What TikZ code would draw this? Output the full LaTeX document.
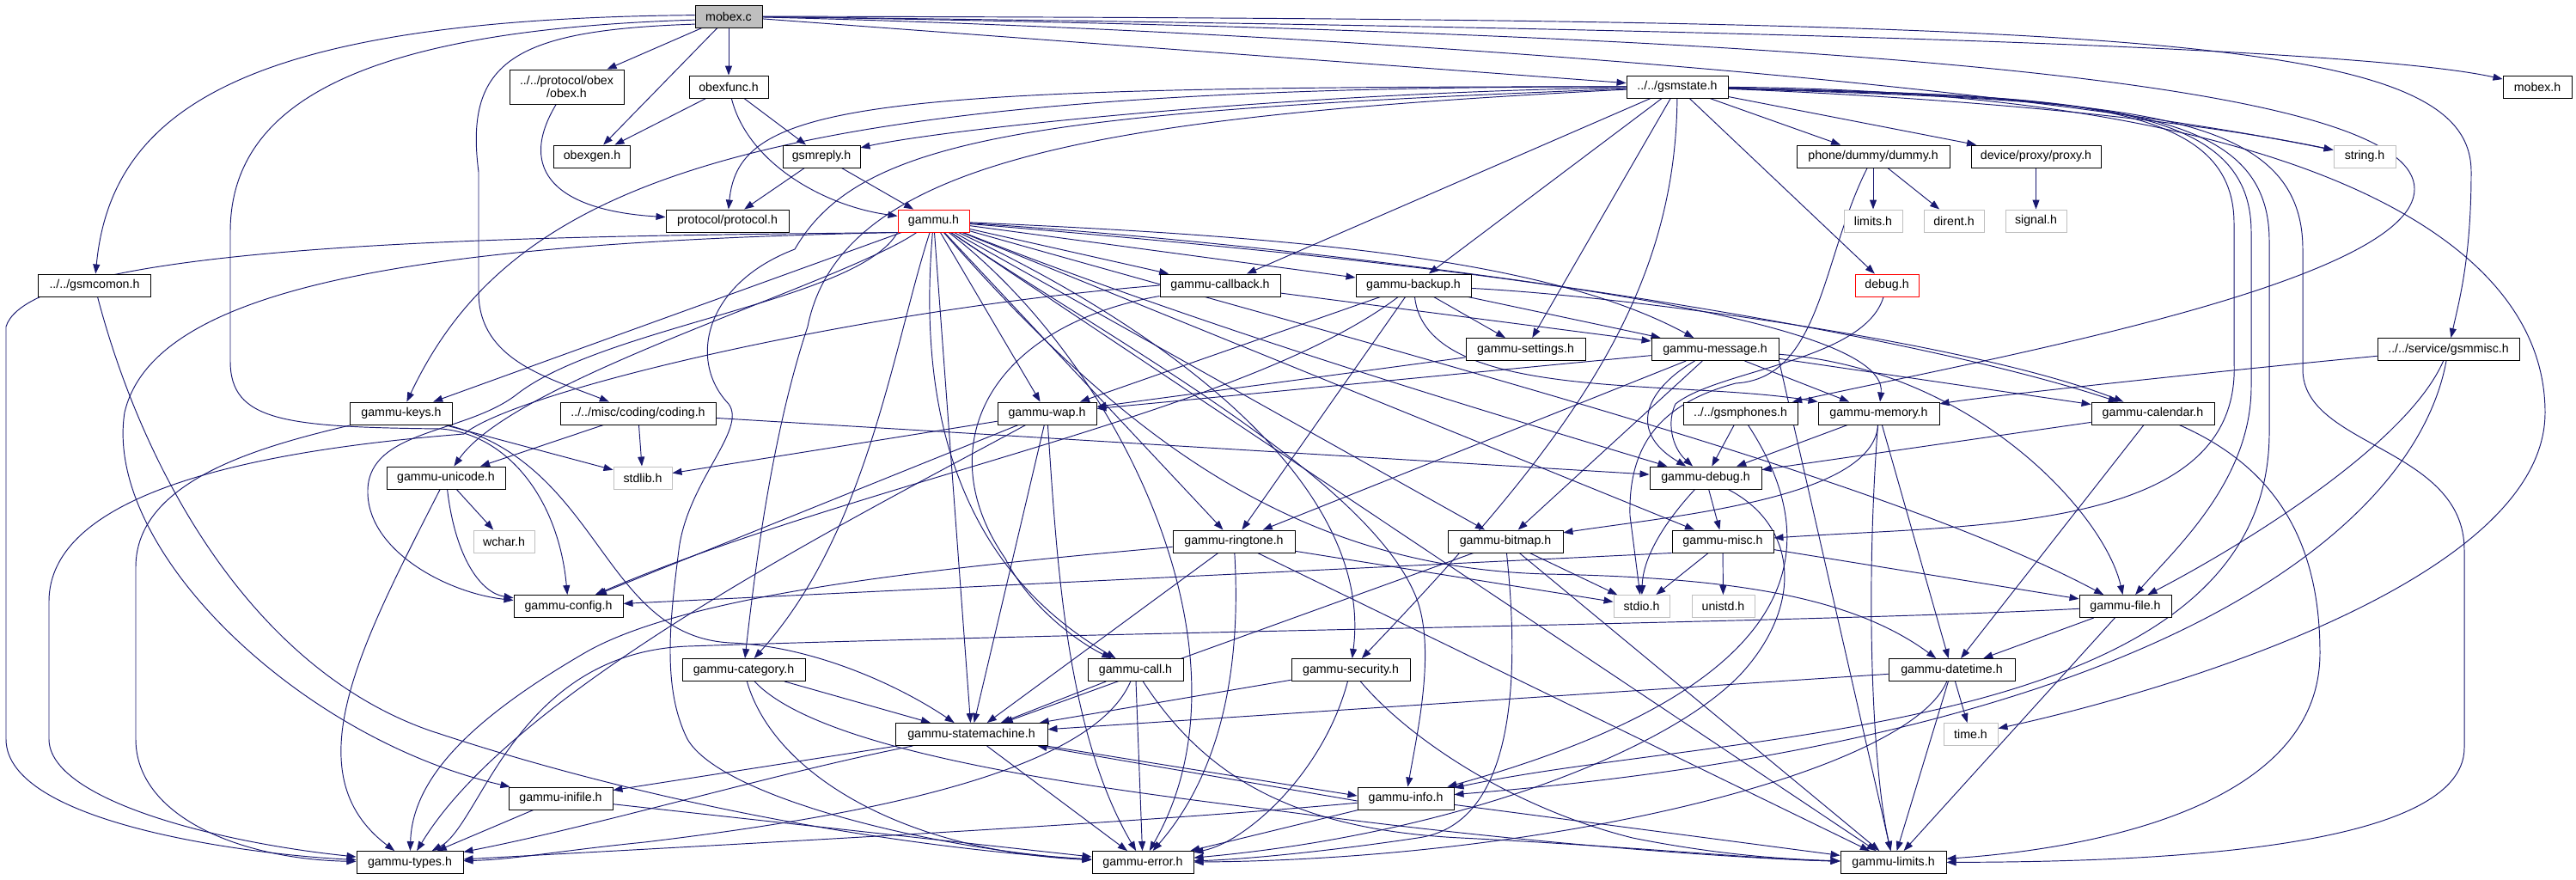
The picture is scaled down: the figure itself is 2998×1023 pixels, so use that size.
\documentclass[tikz,border=0pt]{standalone}
\usepackage{fontspec}
\setmainfont{Liberation Sans}
\usetikzlibrary{arrows.meta}
\pgfdeclarelayer{bg}
\pgfsetlayers{bg,main}
\definecolor{edgec}{HTML}{191970}
\definecolor{sysgray}{HTML}{BFBFBF}
\definecolor{rootfill}{HTML}{BFBFBF}
\begin{document}
\begin{tikzpicture}[x=1pt,y=-1pt,
  nbox/.style={draw=black, line width=0.95pt, fill=white, minimum height=26pt, inner sep=0pt, font=\fontsize{14.2}{15}\selectfont},
  sysbox/.style={nbox, draw=sysgray},
  redbox/.style={nbox, draw=red},
  dep/.style={draw=edgec, line width=0.95pt, -{Triangle[length=11pt,width=8pt]}}]
\useasboundingbox (0,0) rectangle (2998,1023);

% ---------- nodes ----------
\node[nbox, fill=rootfill, minimum width=78pt] (mobexc) at (848,19) {mobex.c};
\node[nbox, minimum width=92pt] (obexfunc) at (848,101) {obexfunc.h};
\node[nbox, minimum width=133pt, minimum height=40pt, align=center] (obex) at (659.5,101) {../../protocol/obex\\/obex.h};
\node[nbox, minimum width=118pt] (gsmstate) at (1952,101) {../../gsmstate.h};
\node[nbox, minimum width=80pt] (mobexh) at (2953,101) {mobex.h};
\node[nbox, minimum width=89pt] (obexgen) at (689,182) {obexgen.h};
\node[nbox, minimum width=90pt] (gsmreply) at (956,182) {gsmreply.h};
\node[nbox, minimum width=178pt] (dummy) at (2180,182) {phone/dummy/dummy.h};
\node[nbox, minimum width=151pt] (proxy) at (2369.5,182) {device/proxy/proxy.h};
\node[sysbox, minimum width=72pt] (stringh) at (2752,182) {string.h};
\node[nbox, minimum width=143pt] (protocol) at (846.5,257) {protocol/protocol.h};
\node[redbox, minimum width=83pt] (gammuh) at (1086.5,257) {gammu.h};
\node[sysbox, minimum width=68pt] (limitsh) at (2180,257) {limits.h};
\node[sysbox, minimum width=70pt] (dirent) at (2274,257) {dirent.h};
\node[sysbox, minimum width=71pt] (signal) at (2369.5,257) {signal.h};
\node[nbox, minimum width=131pt] (gsmcomon) at (110,332) {../../gsmcomon.h};
\node[nbox, minimum width=140pt] (callback) at (1420,332) {gammu-callback.h};
\node[nbox, minimum width=134pt] (backup) at (1645,332) {gammu-backup.h};
\node[redbox, minimum width=74pt] (debugh) at (2196,332) {debug.h};
\node[nbox, minimum width=139pt] (settings) at (1775.5,406.5) {gammu-settings.h};
\node[nbox, minimum width=148pt] (message) at (1996,406.5) {gammu-message.h};
\node[nbox, minimum width=165pt] (gsmmisc) at (2849.5,406.5) {../../service/gsmmisc.h};
\node[nbox, minimum width=119pt] (keys) at (467,481) {gammu-keys.h};
\node[nbox, minimum width=181pt] (coding) at (742.5,481) {../../misc/coding/coding.h};
\node[nbox, minimum width=115pt] (wap) at (1218.5,481) {gammu-wap.h};
\node[nbox, minimum width=133pt] (gsmphones) at (2025.5,481) {../../gsmphones.h};
\node[nbox, minimum width=141pt] (memory) at (2186.5,481) {gammu-memory.h};
\node[nbox, minimum width=143pt] (calendar) at (2505.5,481) {gammu-calendar.h};
\node[nbox, minimum width=138pt] (unicode) at (519,556) {gammu-unicode.h};
\node[sysbox, minimum width=68pt] (stdlib) at (748,556) {stdlib.h};
\node[nbox, minimum width=130pt] (gdebug) at (1985,556) {gammu-debug.h};
\node[sysbox, minimum width=71pt] (wchar) at (586.5,630) {wchar.h};
\node[nbox, minimum width=142pt] (ringtone) at (1436,630) {gammu-ringtone.h};
\node[nbox, minimum width=134pt] (bitmap) at (1752,630) {gammu-bitmap.h};
\node[nbox, minimum width=118pt] (misc) at (2005,630) {gammu-misc.h};
\node[nbox, minimum width=127pt] (config) at (661.5,705.5) {gammu-config.h};
\node[sysbox, minimum width=65pt] (stdio) at (1910.5,705.5) {stdio.h};
\node[sysbox, minimum width=73pt] (unistd) at (2005.5,705.5) {unistd.h};
\node[nbox, minimum width=107pt] (file) at (2473.5,705.5) {gammu-file.h};
\node[nbox, minimum width=143pt] (category) at (865.5,779.5) {gammu-category.h};
\node[nbox, minimum width=111pt] (call) at (1321.5,779.5) {gammu-call.h};
\node[nbox, minimum width=138pt] (security) at (1572,779.5) {gammu-security.h};
\node[nbox, minimum width=147pt] (datetime) at (2271.5,779.5) {gammu-datetime.h};
\node[nbox, minimum width=177pt] (statemachine) at (1130.5,854.5) {gammu-statemachine.h};
\node[sysbox, minimum width=63pt] (timeh) at (2293.5,854.5) {time.h};
\node[nbox, minimum width=121pt] (inifile) at (652.5,929) {gammu-inifile.h};
\node[nbox, minimum width=112pt] (info) at (1636,929) {gammu-info.h};
\node[nbox, minimum width=124pt] (types) at (477,1003.5) {gammu-types.h};
\node[nbox, minimum width=118pt] (errorh) at (1330,1003.5) {gammu-error.h};
\node[nbox, minimum width=123pt] (glimits) at (2203.5,1003.5) {gammu-limits.h};

\begin{pgfonlayer}{bg}
\fill[white] (0,0) rectangle (2998,1023);

% mobex.c
\draw[dep] (mobexc) -- (obexfunc);
\draw[dep] (mobexc) -- (obexgen);
\draw[dep] (mobexc) -- (obex);
\draw[dep] (mobexc.178) .. controls (300,22) and (130,120) .. (gsmcomon);
\draw[dep] (mobexc.186) .. controls (420,35) and (268,120) .. (268,270) -- (268,420) .. controls (268,490) and (330,497) .. (513,499) .. controls (590,505) and (650,580) .. (config);
\draw[dep] (mobexc.193) .. controls (600,35) and (540,70) .. (557,200) -- (557,340) .. controls (557,420) and (640,440) .. (coding);
\draw[dep] (mobexc) -- (gsmstate);
\draw[dep] (mobexc) .. controls (1600,28) and (2700,45) .. (mobexh);
\draw[dep] (mobexc) .. controls (1500,35) and (2300,90) .. (stringh);
\draw[dep] (mobexc) .. controls (2500,22) and (2876,40) .. (2876,200) .. controls (2876,300) and (2862,350) .. (gsmmisc);
\draw[dep] (mobexc) .. controls (2300,40) and (2810,110) .. (2810,220) .. controls (2810,330) and (2300,420) .. (gsmphones);

% obexfunc, obex, gsmreply
\draw[dep] (obexfunc) -- (obexgen);
\draw[dep] (obexfunc) -- (gsmreply);
\draw[dep] (obexfunc) .. controls (870,190) and (960,240) .. (gammuh);
\draw[dep] (obex) .. controls (600,200) and (650,245) .. (protocol);
\draw[dep] (gsmreply) -- (protocol);
\draw[dep] (gsmreply) -- (gammuh);

% gsmstate
\draw[dep] (gsmstate) .. controls (1500,108) and (1100,150) .. (gsmreply);
\draw[dep] (gsmstate) .. controls (1000,100) and (860,120) .. (protocol);
\draw[dep] (gsmstate) .. controls (900,100) and (600,200) .. (keys);
\draw[dep] (gsmstate) .. controls (1300,135) and (980,180) .. (940,380) .. controls (900,500) and (880,650) .. (category);
\draw[dep] (gsmstate) .. controls (1200,130) and (1000,160) .. (925,290) .. controls (820,330) and (800,420) .. (848,470) .. controls (870,500) and (800,560) .. (790,640) .. controls (780,720) and (770,800) .. (800,860) .. controls (840,930) and (1100,990) .. (errorh);
\draw[dep] (gsmstate) -- (callback);
\draw[dep] (gsmstate) -- (backup);
\draw[dep] (gsmstate) -- (settings);
\draw[dep] (gsmstate) .. controls (1950,350) and (1820,520) .. (security);
\draw[dep] (gsmstate) -- (debugh);
\draw[dep] (gsmstate) -- (dummy);
\draw[dep] (gsmstate) -- (proxy);
\draw[dep] (gsmstate) .. controls (2300,115) and (2550,140) .. (stringh);
\draw[dep] (gsmstate) .. controls (2600,105) and (2962,250) .. (2962,480) .. controls (2962,680) and (2500,810) .. (timeh);
\draw[dep] (gsmstate) .. controls (2440,115) and (2641,120) .. (2641,280) -- (2641,500) .. controls (2645,860) and (2000,850) .. (info);
\draw[dep] (gsmstate) .. controls (2420,112) and (2620,118) .. (2620,270) -- (2620,450) .. controls (2620,560) and (2530,640) .. (file);
\draw[dep] (gsmstate) .. controls (2460,118) and (2680,122) .. (2680,290) -- (2680,430) .. controls (2680,520) and (2868,520) .. (2868,640) -- (2868,870) .. controls (2868,990) and (2500,1003) .. (glimits);
\draw[dep] (gsmstate) .. controls (2400,112) and (2600,115) .. (2600,260) -- (2600,420) .. controls (2610,620) and (2300,610) .. (misc);

% gammu.h
\draw[dep] (gammuh.south west) .. controls (700,275) and (40,275) .. (7,380) -- (7,860) .. controls (7,960) and (300,995) .. (types);
\draw[dep] (gammuh.south west) .. controls (500,282) and (180,330) .. (145,480) .. controls (120,640) and (350,860) .. (inifile);
\draw[dep] (gammuh) -- (keys);
\draw[dep] (gammuh) .. controls (980,330) and (600,440) .. (unicode);
\draw[dep] (gammuh.south west) .. controls (1000,350) and (700,380) .. (600,460) .. controls (540,505) and (430,500) .. (428,570) .. controls (426,640) and (520,690) .. (config);
\draw[dep] (gammuh) .. controls (1040,400) and (1010,620) .. (category);
\draw[dep] (gammuh) .. controls (1070,450) and (1100,650) .. (call);
\draw[dep] (gammuh) -- (statemachine);
\draw[dep] (gammuh) .. controls (1300,420) and (1470,760) .. (errorh);
\draw[dep] (gammuh) .. controls (1300,400) and (1600,560) .. (1650,700) .. controls (1670,760) and (1650,850) .. (info);
\draw[dep] (gammuh) -- (ringtone);
\draw[dep] (gammuh) -- (wap);
\draw[dep] (gammuh) -- (bitmap);
\draw[dep] (gammuh) -- (misc);
\draw[dep] (gammuh) -- (callback);
\draw[dep] (gammuh) -- (backup);
\draw[dep] (gammuh) .. controls (1500,275) and (1800,300) .. (message);
\draw[dep] (gammuh) .. controls (1600,290) and (2200,380) .. (calendar);
\draw[dep] (gammuh) .. controls (1600,300) and (2200,360) .. (memory);
\draw[dep] (gammuh) .. controls (1400,380) and (1700,470) .. (gdebug);
\draw[dep] (gammuh) .. controls (1700,430) and (2200,560) .. (file);
\draw[dep] (gammuh) .. controls (1300,500) and (1500,660) .. (1800,668) .. controls (2000,672) and (2150,690) .. (datetime);
\draw[dep] (gammuh) -- (glimits);
\draw[dep] (gammuh) .. controls (1350,380) and (1600,560) .. (security);

% callback
\draw[dep] (callback.west) .. controls (1000,360) and (600,455) .. (540,505) .. controls (350,520) and (57,560) .. (57,700) -- (57,860) .. controls (57,930) and (250,980) .. (types);
\draw[dep] (callback) -- (message);
\draw[dep] (callback) .. controls (1150,380) and (1080,520) .. (1170,650) .. controls (1200,710) and (1260,750) .. (call);

% backup
\draw[dep] (backup) -- (settings);
\draw[dep] (backup) -- (message);
\draw[dep] (backup) -- (wap);
\draw[dep] (backup) .. controls (1660,470) and (1950,440) .. (memory.north west);
\draw[dep] (backup) -- (ringtone);
\draw[dep] (backup) .. controls (1900,345) and (2300,400) .. (calendar);
\draw[dep] (backup) .. controls (1450,480) and (1000,560) .. (config);

% settings, message
\draw[dep] (settings) -- (wap);
\draw[dep] (message) -- (wap);
\draw[dep] (message) -- (memory);
\draw[dep] (message) -- (bitmap);
\draw[dep] (message) -- (ringtone);
\draw[dep] (message) -- (calendar);
\draw[dep] (message) .. controls (1920,450) and (1890,500) .. (gdebug);
\draw[dep] (message) .. controls (2300,430) and (2450,600) .. (file);
\draw[dep] (message.south east) -- (glimits);

% keys, coding, wap, unicode
\draw[dep] (keys) .. controls (300,520) and (158,560) .. (158,660) -- (158,860) .. controls (158,950) and (280,1000) .. (types);
\draw[dep] (keys) -- (stdlib);
\draw[dep] (keys) .. controls (700,540) and (700,740) .. (850,748) .. controls (950,752) and (1050,800) .. (statemachine);
\draw[dep] (coding) -- (unicode);
\draw[dep] (coding) -- (stdlib);
\draw[dep] (coding) -- (gdebug);
\draw[dep] (wap) -- (stdlib);
\draw[dep] (wap) -- (config);
\draw[dep] (wap) .. controls (1000,600) and (600,800) .. (types);
\draw[dep] (wap) -- (statemachine);
\draw[dep] (wap) .. controls (1230,650) and (1240,850) .. (errorh);
\draw[dep] (unicode) -- (wchar);
\draw[dep] (unicode) .. controls (530,650) and (560,690) .. (config);
\draw[dep] (unicode) .. controls (420,750) and (340,900) .. (types);

% gsmcomon, gsmphones, memory, calendar, gsmmisc
\draw[dep] (gsmcomon) .. controls (170,560) and (300,780) .. (500,850) .. controls (800,950) and (1100,990) .. (errorh);
\draw[dep] (gsmphones) -- (gdebug);
\draw[dep] (gsmphones) .. controls (2130,640) and (2100,800) .. (info);
\draw[dep] (memory) -- (gdebug);
\draw[dep] (memory) -- (datetime);
\draw[dep] (memory) .. controls (2180,580) and (1950,600) .. (bitmap);
\draw[dep] (memory) .. controls (2170,700) and (2180,900) .. (glimits);
\draw[dep] (calendar) -- (gdebug);
\draw[dep] (calendar) -- (datetime);
\draw[dep] (calendar) .. controls (2640,540) and (2700,620) .. (2700,760) .. controls (2700,950) and (2400,990) .. (glimits);
\draw[dep] (gsmmisc) .. controls (2600,430) and (2320,460) .. (memory);
\draw[dep] (gsmmisc) .. controls (2800,520) and (2600,640) .. (file);
\draw[dep] (gsmmisc) .. controls (2810,620) and (2500,860) .. (info);

% debug, dummy, proxy
\draw[dep] (gdebug) -- (misc);
\draw[dep] (gdebug) .. controls (1935,610) and (1912,650) .. (stdio);
\draw[dep] (gdebug) .. controls (2090,610) and (2100,700) .. (2030,780) .. controls (1950,870) and (1700,970) .. (errorh);
\draw[dep] (debugh) .. controls (2170,420) and (2000,430) .. (1950,470) .. controls (1940,490) and (1945,520) .. (gdebug);
\draw[dep] (dummy) -- (limitsh);
\draw[dep] (dummy) -- (dirent);
\draw[dep] (dummy) .. controls (2120,300) and (2120,440) .. (2020,446) .. controls (1930,470) and (1895,520) .. (1897,600) -- (stdio);
\draw[dep] (proxy) -- (signal);

% misc, bitmap, ringtone
\draw[dep] (misc) -- (stdio);
\draw[dep] (misc) -- (unistd);
\draw[dep] (misc.south west) -- (config);
\draw[dep] (misc) -- (file);
\draw[dep] (bitmap) -- (stdio);
\draw[dep] (bitmap) -- (statemachine);
\draw[dep] (bitmap) .. controls (1770,800) and (1760,960) .. (1650,975) .. controls (1550,990) and (1450,1000) .. (errorh);
\draw[dep] (bitmap) -- (glimits);
\draw[dep] (ringtone) -- (stdio);
\draw[dep] (ringtone) -- (statemachine);
\draw[dep] (ringtone) .. controls (1445,780) and (1420,900) .. (errorh);
\draw[dep] (ringtone) .. controls (1100,660) and (800,690) .. (680,760) .. controls (560,830) and (480,900) .. (types);
\draw[dep] (ringtone) -- (glimits);

% file, datetime
\draw[dep] (file) -- (datetime);
\draw[dep] (file) .. controls (2100,725) and (1300,735) .. (800,752) .. controls (600,760) and (560,960) .. (types);
\draw[dep] (file) -- (glimits);
\draw[dep] (datetime) -- (statemachine);
\draw[dep] (datetime) -- (timeh);
\draw[dep] (datetime) .. controls (2220,900) and (1800,1000) .. (errorh);
\draw[dep] (datetime) -- (glimits);

% category, call, security
\draw[dep] (category) -- (statemachine);
\draw[dep] (category) .. controls (900,900) and (1050,990) .. (errorh);
\draw[dep] (category) .. controls (960,880) and (1300,920) .. (1500,945) .. controls (1800,985) and (2050,1000) .. (glimits);
\draw[dep] (call) -- (statemachine);
\draw[dep] (call) .. controls (1270,900) and (1000,950) .. (750,980) .. controls (650,990) and (600,1000) .. (types);
\draw[dep] (call) -- (errorh);
\draw[dep] (call) .. controls (1400,900) and (1500,965) .. (1700,975) .. controls (1900,985) and (2050,1000) .. (glimits);
\draw[dep] (security) -- (statemachine);
\draw[dep] (security) .. controls (1540,900) and (1450,980) .. (errorh);
\draw[dep] (security) .. controls (1640,860) and (1760,940) .. (1900,975) .. controls (2000,995) and (2080,1000) .. (glimits);

% statemachine, info, inifile
\draw[dep] ([xshift=-2pt]statemachine.south east) -- ([yshift=3pt]info.west);
\draw[dep] ([yshift=-3pt]info.west) -- ([xshift=-12pt]statemachine.south east);
\draw[dep] (statemachine) -- (inifile);
\draw[dep] (statemachine) .. controls (900,900) and (700,960) .. (types);
\draw[dep] (statemachine) -- (errorh);
\draw[dep] (info) .. controls (1300,960) and (800,985) .. (types);
\draw[dep] (info) -- (errorh);
\draw[dep] (info) -- (glimits);
\draw[dep] (inifile) -- (types);
\draw[dep] (inifile) -- (errorh);
\end{pgfonlayer}
\end{tikzpicture}
\end{document}
